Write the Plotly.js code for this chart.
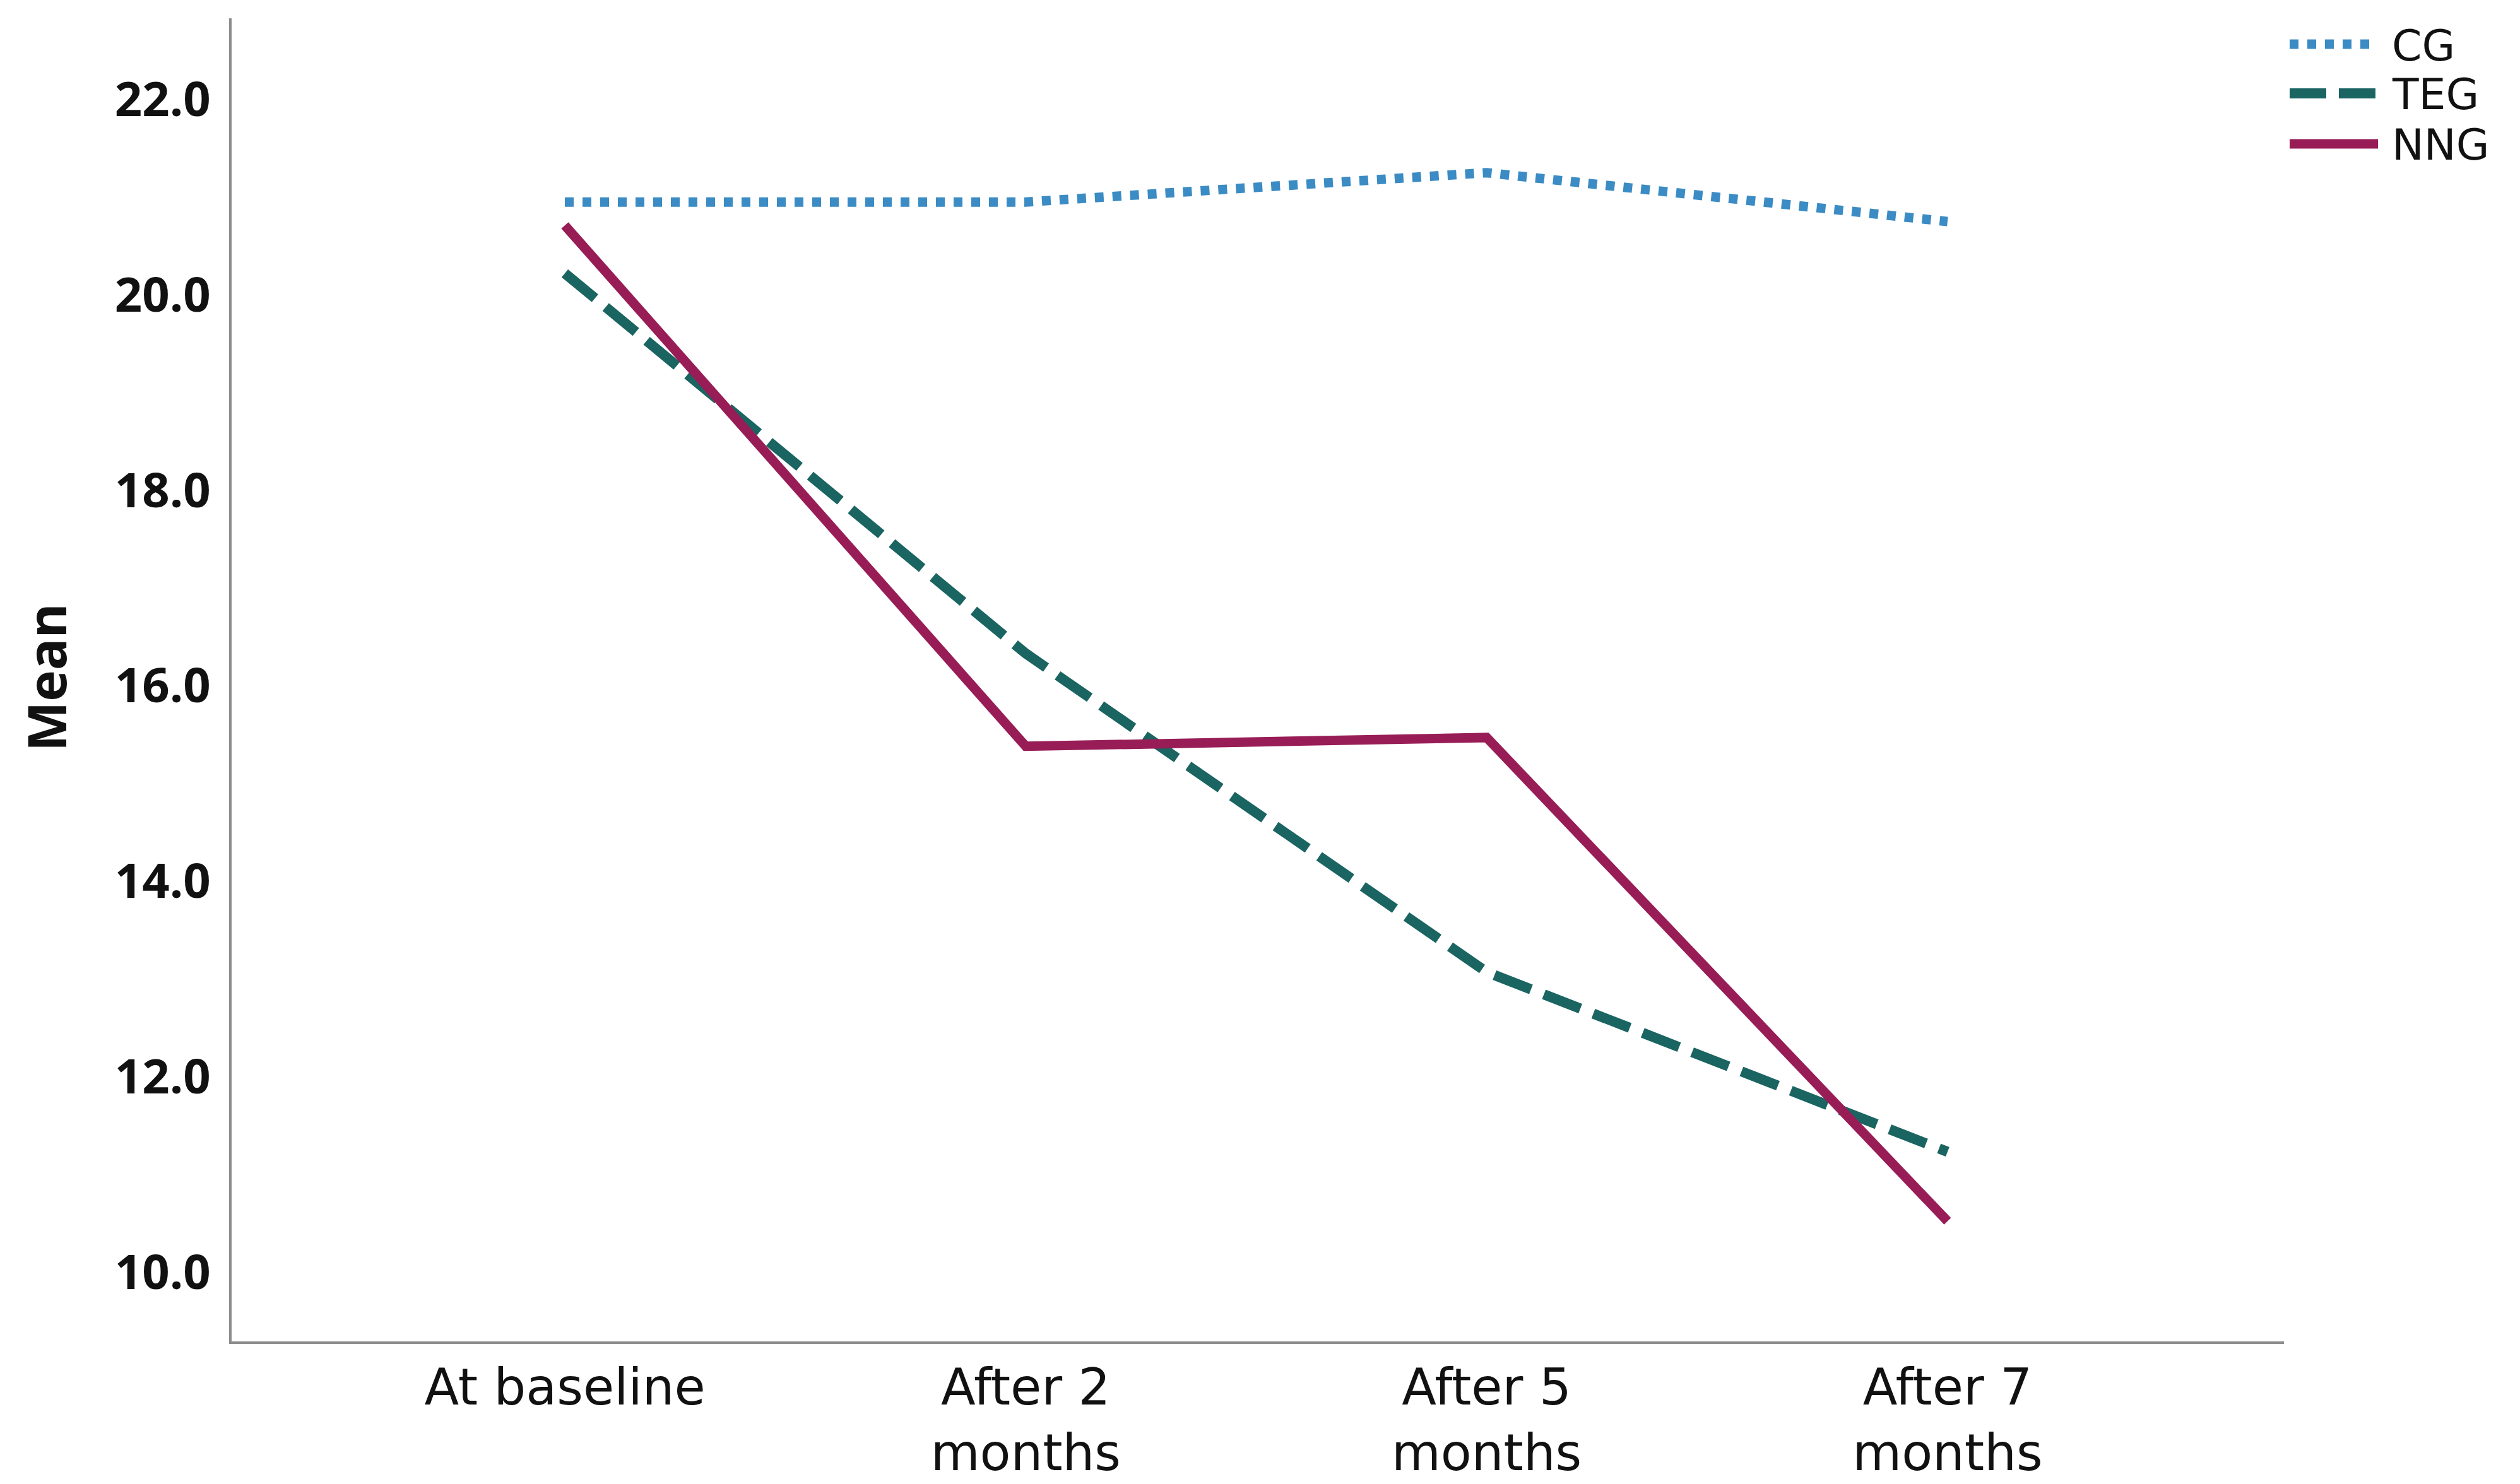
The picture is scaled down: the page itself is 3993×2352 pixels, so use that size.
<!DOCTYPE html>
<html>
<head>
<meta charset="utf-8">
<script src="https://cdn.plot.ly/plotly-3.0.1.min.js"></script>
<style>html,body{margin:0;padding:0;background:#fff;}#chart{width:3993px;height:2352px;}</style>
</head>
<body>
<div id="chart"></div>
<script>
// ---- data ----
var categories = ['At baseline', 'After 2<br>months', 'After 5<br>months', 'After 7<br>months'];
var seriesNames = ['CG', 'TEG', 'NNG'];
var cgValues  = [20.95, 20.95, 21.25, 20.75];
var tegValues = [20.22, 16.33, 13.07, 11.23];
var nngValues = [20.71, 15.38, 15.47, 10.52];
var yTickValues = [10, 12, 14, 16, 18, 20, 22];

// ---- styling ----
var W = 3993, H = 2352;
var M = {l: 367, r: 374, t: 29, b: 226};
var colors = {CG: '#3b8bc4', TEG: '#1a6461', NNG: '#981d57'};
var dashes = {CG: '14px,14px', TEG: '62px,22px', NNG: 'solid'};
var widths = {CG: 15, TEG: 16, NNG: 15};

var values = {CG: cgValues, TEG: tegValues, NNG: nngValues};
var traces = seriesNames.map(function (n) {
  return {
    type: 'scatter', mode: 'lines', name: n,
    x: categories, y: values[n],
    line: {color: colors[n], width: widths[n], dash: dashes[n]},
    showlegend: false, hoverinfo: 'skip'
  };
});

// legend drawn with shapes + annotations (pixel positions converted to paper)
var pw = W - M.l - M.r, ph = H - M.t - M.b;
function px(x) { return (x - M.l) / pw; }
function py(y) { return 1 - (y - M.t) / ph; }
var legendY = [70, 148, 228];
var shapes = [], annotations = [];
seriesNames.forEach(function (n, i) {
  shapes.push({type: 'line', xref: 'paper', yref: 'paper',
    x0: px(3628), x1: px(3768), y0: py(legendY[i]), y1: py(legendY[i]),
    line: {color: colors[n], width: widths[n], dash: n === 'TEG' ? '58px,20px' : dashes[n]}});
  annotations.push({xref: 'paper', yref: 'paper', x: px(3788), y: py(legendY[i] + 2),
    xanchor: 'left', yanchor: 'middle', text: n, showarrow: false,
    font: {family: 'DejaVu Sans', size: 68, color: '#111'}});
});
annotations.push({xref: 'paper', yref: 'paper', x: px(72), y: py(1074),
  xanchor: 'center', yanchor: 'middle', textangle: -90, text: 'Mean', showarrow: false,
  font: {family: 'Open Sans', size: 84, color: '#111', weight: 'bold'}});

var layout = {
  width: W, height: H,
  margin: M,
  paper_bgcolor: '#fff', plot_bgcolor: '#fff',
  showlegend: false,
  xaxis: {
    type: 'category', range: [-0.723, 3.73],
    showgrid: false, zeroline: false,
    showline: true, linecolor: '#8c8c8c', linewidth: 4,
    ticks: '', ticklabelstandoff: 0,
    tickfont: {family: 'DejaVu Sans', size: 80, color: '#111'}
  },
  yaxis: {
    range: [9.29, 22.83],
    tickvals: yTickValues, tickformat: '.1f',
    showgrid: false, zeroline: false,
    showline: true, linecolor: '#8c8c8c', linewidth: 4,
    ticks: '', ticklabelstandoff: 14,
    tickfont: {family: 'Open Sans', size: 76, color: '#111', weight: 'bold'}
  },
  shapes: shapes,
  annotations: annotations
};

Plotly.newPlot('chart', traces, layout, {staticPlot: true, displayModeBar: false});
</script>
</body>
</html>
